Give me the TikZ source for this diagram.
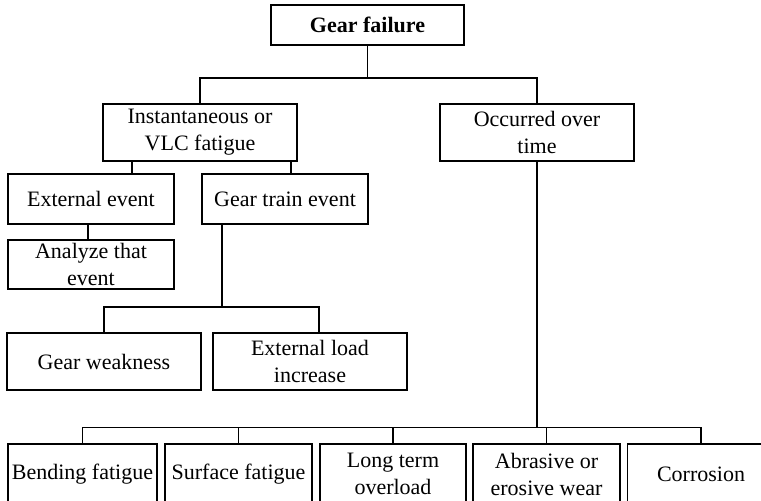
\documentclass[tikz,border=0pt]{standalone}
\usepackage{fontspec}
\setmainfont{Liberation Serif}
\usepackage{tikz}
\usetikzlibrary{positioning, calc}

\begin{document}
\begin{tikzpicture}[x=0.5pt, y=-0.5pt,
    box/.style={draw, line width=0.7pt, align=center, inner sep=0pt,
      font=\fontsize{11}{13.5}\selectfont},
    wide/.style={box, minimum width=97pt, minimum height=28.5pt},
    mid/.style={box, minimum width=83pt, minimum height=25pt},
    leaf/.style={box, minimum width=73.5pt, minimum height=30pt},
    link/.style={line width=0.7pt}]
  \useasboundingbox (0,0) rectangle (761,500);
  \clip (0,0) rectangle (761,500);

  \node[box, minimum width=96.5pt, minimum height=20pt] (fail) at (367.5,25) {\textbf{Gear failure}};
  \node[wide] (inst) at (200,132.5) {Instantaneous or\\VLC fatigue};
  \node[wide] (occur) at (537,132.5) {Occurred over\\time};

  \node[mid] (ext) at (91,199) {External event};
  \node[mid] (train) at (285,199) {Gear train event};
  \node[mid, minimum height=24.5pt] (anal) at (91,264.5) {Analyze that\\event};

  \node[wide] (weak) at (104,361.5) {Gear weakness};
  \node[wide] (load) at (310,361.5) {External load\\increase};

  \node[leaf, minimum width=74.5pt] (bend) at (82.5,474) {Bending fatigue};
  \node[leaf] (surf) at (238.5,474) {Surface fatigue};
  \node[leaf, minimum width=73pt] (longt) at (393,474) {Long term\\overload};
  \node[leaf] (abra) at (546.5,474) {Abrasive or\\erosive wear};
  \node[leaf] (corr) at (701,474) {Corrosion};

  % bar levels
  \coordinate (topbar) at (0,78);
  \coordinate (midbar) at (0,307);
  \coordinate (lowbar) at (0,427.5);

  % top split
  \draw[link] (fail.south) -- (fail.south |- topbar);
  \draw[link] (inst.north) -- (inst.north |- topbar) -- (occur.north |- topbar) -- (occur.north);

  % instantaneous branch
  \draw[link] ([xshift=20.5pt]ext.north) -- ([xshift=20.5pt]ext.north |- inst.south);
  \draw[link] ([xshift=3pt]train.north) -- ([xshift=3pt]train.north |- inst.south);
  \draw[link] ([xshift=-1.5pt]ext.south) -- ([xshift=-1.5pt]anal.north);
  \draw[link] ([xshift=-31.5pt]train.south) -- ([xshift=-31.5pt]train.south |- midbar);
  \draw[link] (weak.north) -- (weak.north |- midbar) -- ([xshift=4.5pt]load.north |- midbar) -- ([xshift=4.5pt]load.north);

  % over time branch
  \draw[link] (occur.south) -- (occur.south |- lowbar);
  \draw[link] (bend.north) -- (bend.north |- lowbar) -- (corr.north |- lowbar) -- (corr.north);
  \foreach \n in {surf,longt,abra}
    \draw[link] (\n.north) -- (\n.north |- lowbar);
\end{tikzpicture}
\end{document}
